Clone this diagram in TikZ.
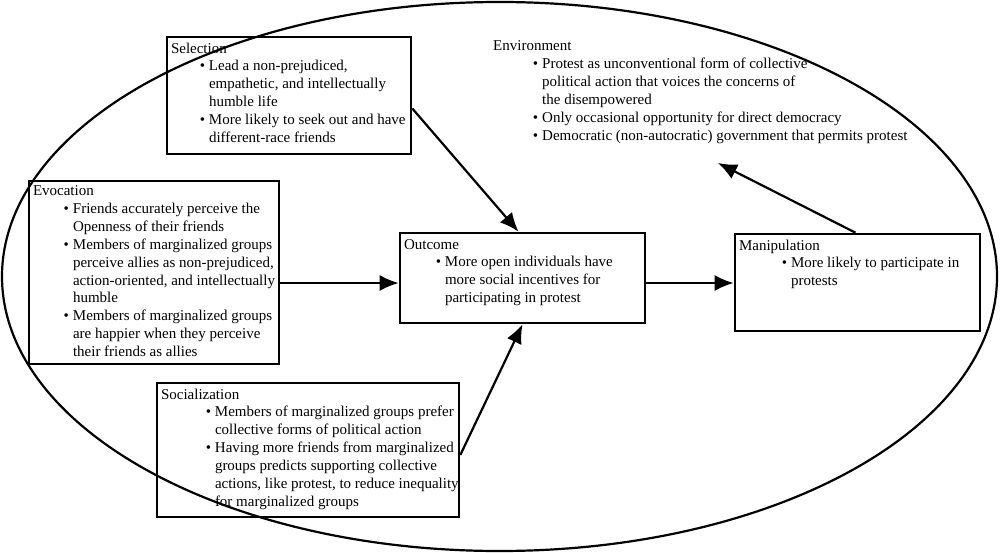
\documentclass[tikz,border=0pt]{standalone}
\usepackage{fontspec}
\setmainfont{Liberation Serif}
\usetikzlibrary{arrows.meta}
\newlength{\bulind}
\newcommand{\bul}[1]{\par\leftskip=\bulind\noindent\llap{\textbullet\hspace{4pt}}#1}
\newcommand{\panel}[4]{\parbox[t][#2][t]{#1}{\setlength{\bulind}{#3}\raggedright\strut #4}}

\begin{document}
\begin{tikzpicture}[
    x=1pt, y=-1pt,
    box/.style={draw, line width=2.6pt, inner xsep=4pt, inner ysep=3.5pt, font=\fontsize{15}{17.9}\selectfont},
    plain/.style={inner xsep=4pt, inner ysep=2pt, font=\fontsize{15}{17.9}\selectfont},
    arr/.style={-{Latex[length=19pt,width=16pt]}, line width=2.2pt}
]
    \useasboundingbox (0,0) rectangle (1000,553);
    \draw[line width=2.2pt] (499.5,276.5) ellipse [x radius=497.5pt, y radius=274.5pt];

    \node[box] (sel) at (289,95.5) {\panel{236pt}{110pt}{38pt}{Selection
        \bul{Lead a non-prejudiced,\\ empathetic, and intellectually\\ humble life}
        \bul{More likely to seek out and have\\ different-race friends}}};

    \node[box, inner ysep=2pt] (evo) at (154,272.5) {\panel{242pt}{179pt}{40pt}{Evocation
        \bul{Friends accurately perceive the\\ Openness of their friends}
        \bul{Members of marginalized groups\\ perceive allies as non-prejudiced,\\ action-oriented, and intellectually\\ humble}
        \bul{Members of marginalized groups\\ are happier when they perceive\\ their friends as allies}}};

    \node[box] (soc) at (308,450) {\panel{294pt}{127pt}{54pt}{Socialization
        \bul{Members of marginalized groups prefer\\ collective forms of political action}
        \bul{Having more friends from marginalized\\ groups predicts supporting collective\\ \mbox{actions, like protest, to reduce inequality}\\ for marginalized groups}}};

    \node[box] (out) at (522.5,278) {\panel{237pt}{83pt}{41pt}{Outcome
        \bul{More open individuals have\\ more social incentives for\\ participating in protest}}};

    \node[box] (man) at (857.5,282.5) {\panel{237pt}{90pt}{52pt}{Manipulation
        \bul{More likely to participate in\\ protests}}};

    \node[plain, anchor=north west] (env) at (489,36) {\panel{420pt}{115pt}{49pt}{Environment
        \bul{Protest as unconventional form of collective\\ political action that voices the concerns of\\ the disempowered}
        \bul{Only occasional opportunity for direct democracy}
        \bul{Democratic (non-autocratic) government that permits protest}}};

    \coordinate (midrow) at (0,283);
    \coordinate (envtip) at (718,163);

    \draw[arr] ([yshift=-13pt]sel.east) -- ([xshift=-4pt]out.north);
    \draw[arr] (evo.east |- midrow) -- (out.west |- midrow);
    \draw[arr] ([yshift=-5pt]soc.east) -- (out.south);
    \draw[arr] (out.east |- midrow) -- (man.west |- midrow);
    \draw[arr] ([xshift=-2pt]man.north) -- (envtip);
\end{tikzpicture}
\end{document}
